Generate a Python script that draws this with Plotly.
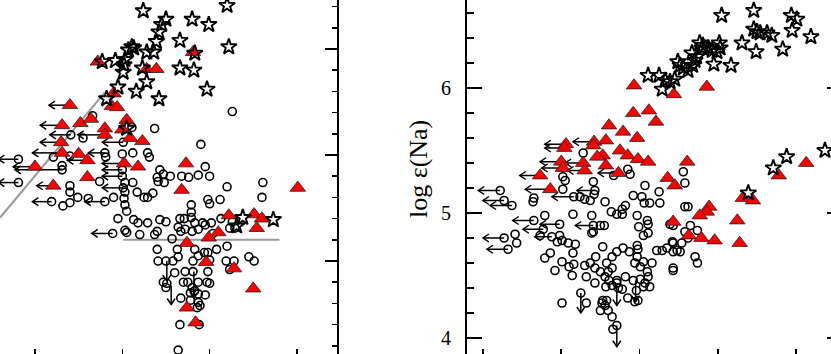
import plotly.graph_objects as go

W, H = 831, 354
FONT = "Liberation Serif"

# ---------------- left panel data ----------------
L_star_x = [-1.76, -1.50, -1.55, -1.58, -1.61, -1.64, -1.72, -1.89, -1.87, -1.93,
            -1.20, -1.01, -0.80, -1.34, -1.17, -0.78, -2.23, -2.08, -1.97, -1.98,
            -1.99, -1.77, -1.34, -1.18, -1.72, -1.84, -2.05, -1.58, -1.03, -2.18,
            -1.95, -0.62, -0.69, -0.27]
L_star_y = [2.36, 2.28, 2.23, 2.16, 2.07, 1.97, 1.97, 2.02, 2.01, 1.99,
            2.28, 2.23, 2.41, 2.08, 1.96, 2.02, 1.88, 1.89, 1.90, 1.85,
            1.78, 1.82, 1.82, 1.80, 1.69, 1.60, 1.64, 1.53, 1.62, 1.53,
            1.25, 0.41, 0.33, 0.39]

L_tri_x = [-2.28, -1.72, -1.61, -1.19, -2.10, -2.12, -2.06, -2.60, -2.48, -2.36,
           -2.69, -2.20, -1.95, -2.00, -2.20, -1.91, -1.77, -2.70, -2.69, -2.50,
           -2.40, -3.00, -1.98, -1.82, -1.27, -2.40, -2.79, -1.32, 0.01, -0.78,
           -0.49, -0.40, -0.46, -0.90, -1.01, -1.26, -1.04, -0.72, -0.50, -1.26,
           -1.16]
L_tri_y = [1.88, 1.81, 1.81, 1.97, 1.58, 1.46, 1.45, 1.47, 1.30, 1.34,
           1.28, 1.25, 1.33, 1.24, 1.19, 1.16, 1.13, 1.12, 1.02, 1.01,
           0.95, 0.89, 0.92, 0.89, 0.92, 0.79, 0.71, 0.67, 0.69, 0.43,
           0.44, 0.40, 0.31, 0.27, 0.22, 0.17, -0.01, -0.07, -0.26, -0.44,
           -0.58]

L_circ_x = [-0.74, -1.63, -1.10, -2.34, -1.89, -2.45, -2.59, -2.79, -1.99, -1.88,
            -1.71, -1.69, -2.00, -2.20, -3.19, -2.69, -2.69, -1.57, -1.53, -1.45,
            -1.60, -1.59, -1.52, -1.32, -1.24, -1.13, -1.00, -1.05, -2.19, -2.60,
            -3.19, -2.60, -2.60, -2.60, -2.81, -2.68, -2.51, -2.39, -2.20, -2.26,
            -2.10, -1.97, -1.88, -1.97, -1.98, -1.97, -1.95, -1.83, -1.71, -1.65,
            -1.75, -2.00, -2.00, -1.99, -0.80, -0.39, -0.40, -0.88, -1.02, -1.00,
            -1.21, -1.21, -1.21, -1.34, -1.29, -1.17, -1.08, -0.98, -0.87, -0.74,
            -0.77, -0.71, -1.36, -1.33, -1.28, -1.20, -1.13, -1.05, -1.57, -1.50,
            -1.60, -1.63, -1.97, -2.11, -1.87, -1.82, -1.71, -1.80, -2.05, -1.43,
            -1.60, -1.37, -1.17, -0.92, -1.59, -1.50, -1.42, -1.36, -1.19, -1.13,
            -1.06, -1.02, -1.00, -0.81, -0.72, -0.55, -0.49, -0.77, -1.28, -1.19,
            -1.02, -1.40, -1.49, -1.53, -1.50, -1.30, -1.25, -1.13, -1.03, -1.00,
            -1.20, -1.17, -1.22, -1.13, -1.33, -1.22, -1.13, -1.14, -1.11, -1.05,
            -1.34, -1.12, -1.36, -0.80, -0.96, -1.95]
L_circ_y = [1.41, 1.25, 1.10, 1.37, 1.26, 1.16, 1.19, 0.98, 1.12, 1.02,
            1.02, 0.98, 1.01, 1.02, 0.96, 0.86, 0.90, 0.86, 0.82, 0.80,
            0.79, 0.75, 0.74, 0.80, 0.79, 0.81, 0.80, 0.89, 0.98, 0.99,
            0.74, 0.71, 0.65, 0.55, 0.56, 0.52, 0.60, 0.59, 0.56, 0.75,
            0.60, 0.74, 0.74, 0.65, 0.59, 0.53, 0.47, 0.65, 0.60, 0.64,
            0.60, 0.86, 0.80, 0.69, 0.70, 0.74, 0.60, 0.58, 0.58, 0.54,
            0.53, 0.46, 0.41, 0.40, 0.40, 0.36, 0.36, 0.36, 0.40, 0.37,
            0.31, 0.31, 0.32, 0.28, 0.30, 0.28, 0.30, 0.34, 0.39, 0.37,
            0.28, 0.25, 0.29, 0.26, 0.39, 0.36, 0.36, 0.25, 0.40, 0.21,
            0.11, 0.11, 0.11, 0.11, 0.00, 0.00, 0.00, 0.04, 0.00, 0.05,
            0.08, 0.08, 0.01, 0.00, 0.00, 0.04, 0.00, -0.08, -0.10, -0.10,
            -0.10, -0.11, -0.21, -0.20, -0.25, -0.20, -0.20, -0.20, -0.20, -0.21,
            -0.25, -0.28, -0.30, -0.31, -0.35, -0.37, -0.39, -0.44, -0.42, -0.32,
            -0.60, -0.60, -0.84, 0.14, 0.26, 0.27]

# upper limits (horizontal): point x, point y, arrow-tip x
L_lim_x = [-2.60, -2.69, -2.59, -2.70, -2.69, -3.19, -3.00, -2.69, -2.40, -2.20, -1.99,
           -2.20, -1.98, -2.00, -2.00, -3.19, -2.79, -2.81, -2.20, -1.99, -2.11]
L_lim_y = [1.47, 1.28, 1.19, 1.12, 1.02, 0.96, 0.89, 0.86, 0.95, 1.19, 1.12,
           1.02, 0.92, 0.86, 0.80, 0.74, 0.71, 0.56, 0.56, 0.69, 0.26]
L_lim_tip = [-2.84, -2.94, -2.83, -2.94, -3.03, -3.42, -3.25, -3.23, -2.63, -2.51, -2.23,
             -2.39, -2.23, -2.23, -2.23, -3.42, -2.98, -3.03, -2.43, -2.23, -2.35]
# upper limits (vertical)
L_vlim_x = [-1.49, -1.44, -1.18]
L_vlim_y = [0.00, -0.23, -0.10]
L_vlim_tip = [-0.19, -0.41, -0.35]

L_diag_x = [-3.40, -2.20]
L_diag_y = [0.41, 1.59]
L_hline_x = [-1.99, -0.20]
L_hline_y = [0.20, 0.20]

# ---------------- right panel data ----------------
R_star_x = [4.05, 4.46, 4.94, 5.01, 4.46, 4.50, 4.54, 4.63, 4.69, 4.95,
            5.19, 4.31, 4.49, 4.83, 3.77, 3.81, 3.80, 4.02, 4.03, 3.99,
            3.88, 3.93, 3.67, 3.73, 3.71, 3.68, 3.95, 4.17, 3.49, 3.52,
            3.56, 3.62, 3.11, 3.25, 3.33, 3.45, 3.39, 3.29, 5.37, 4.88,
            4.71, 4.39]
R_star_y = [6.58, 6.62, 6.58, 6.55, 6.47, 6.45, 6.44, 6.44, 6.42, 6.46,
            6.41, 6.36, 6.29, 6.31, 6.36, 6.34, 6.32, 6.36, 6.32, 6.29,
            6.32, 6.30, 6.28, 6.25, 6.22, 6.18, 6.19, 6.18, 6.21, 6.18,
            6.16, 6.14, 6.10, 6.10, 6.06, 6.07, 6.05, 5.99, 5.50, 5.45,
            5.36, 5.16]

R_tri_x = [2.93, 3.44, 3.86, 2.92, 3.12, 3.21, 2.61, 2.79, 2.97, 2.42,
           2.41, 2.57, 2.75, 2.85, 2.98, 3.11, 3.61, 2.53, 2.46, 2.57,
           2.28, 2.30, 2.73, 3.36, 4.78, 5.13, 3.45, 4.32, 4.45, 3.89,
           3.86, 3.77, 4.25, 3.43, 3.63, 3.79, 3.96, 4.28, 2.06, 2.04,
           2.00, 2.02, 1.73, 1.86]
R_tri_y = [6.02, 5.95, 6.01, 5.80, 5.82, 5.73, 5.70, 5.65, 5.60, 5.57,
           5.54, 5.58, 5.50, 5.46, 5.43, 5.41, 5.41, 5.46, 5.45, 5.38,
           5.40, 5.34, 5.32, 5.28, 5.30, 5.40, 5.22, 5.12, 5.10, 5.05,
           5.01, 4.98, 4.94, 4.93, 4.82, 4.80, 4.78, 4.76, 5.55, 5.52,
           5.41, 5.36, 5.30, 5.19]

R_circ_x = [1.22, 1.27, 1.37, 1.27, 1.32, 1.41, 1.43, 1.65, 1.64, 1.79,
            1.65, 1.77, 1.73, 1.88, 1.98, 2.01, 2.02, 2.05, 2.02, 2.28,
            2.16, 2.24, 2.30, 2.41, 2.43, 2.42, 2.37, 2.56, 2.67, 2.85,
            2.88, 3.56, 3.58, 3.25, 3.07, 2.92, 3.03, 3.06, 3.13, 3.26,
            3.58, 3.62, 2.82, 2.78, 2.78, 2.71, 2.64, 2.97, 3.10, 3.11,
            2.99, 3.11, 3.05, 2.39, 2.50, 2.55, 2.41, 2.41, 2.15, 1.98,
            3.39, 3.43, 3.65, 3.74, 3.58, 3.62, 3.54, 3.48, 3.42, 3.35,
            3.29, 3.43, 3.52, 3.71, 3.74, 3.43, 3.43, 1.95, 2.09, 2.18,
            2.15, 1.79, 1.86, 2.01, 1.92, 2.10, 2.14, 2.16, 2.01, 2.53,
            2.30, 2.37, 2.44, 2.43, 2.50, 2.58, 2.65, 2.71, 2.79, 2.87,
            2.97, 2.98, 2.97, 2.94, 3.01, 3.05, 3.16, 3.10, 3.11, 3.07,
            3.01, 3.13, 3.05, 2.82, 2.71, 2.60, 2.65, 2.61, 2.56, 2.65,
            2.71, 2.43, 2.32, 2.57, 2.73, 2.78, 2.92, 2.96, 2.94, 2.98,
            2.85, 2.25, 2.32, 2.53, 2.52, 2.58, 2.56, 2.60, 2.65, 2.50,
            2.71, 2.66, 3.22, 3.43, 2.39]
R_circ_y = [5.18, 5.10, 5.06, 4.80, 4.71, 4.83, 4.76, 5.12, 5.09, 4.98,
            4.94, 4.87, 4.82, 4.81, 4.82, 4.78, 5.29, 5.26, 5.19, 5.48,
            5.13, 5.13, 5.11, 5.25, 5.18, 5.15, 5.10, 5.09, 5.30, 5.35,
            5.31, 5.33, 5.24, 5.17, 5.22, 5.14, 5.13, 5.08, 5.08, 5.08,
            5.05, 5.05, 5.06, 5.03, 4.99, 4.99, 5.01, 4.98, 4.94, 4.91,
            4.89, 4.84, 4.82, 4.98, 4.90, 4.90, 4.85, 4.90, 4.99, 4.91,
            4.91, 4.90, 4.90, 4.86, 4.85, 4.80, 4.76, 4.70, 4.77, 4.72,
            4.70, 4.69, 4.69, 4.65, 4.60, 4.56, 4.54, 4.77, 4.76, 4.75,
            4.68, 4.64, 4.68, 4.61, 4.54, 4.57, 4.50, 4.59, 4.28, 4.73,
            4.58, 4.60, 4.65, 4.56, 4.53, 4.60, 4.65, 4.69, 4.72, 4.69,
            4.74, 4.71, 4.65, 4.60, 4.57, 4.61, 4.60, 4.53, 4.49, 4.44,
            4.47, 4.41, 4.41, 4.49, 4.46, 4.53, 4.56, 4.46, 4.49, 4.42,
            4.44, 4.44, 4.49, 4.41, 4.40, 4.39, 4.46, 4.38, 4.29, 4.30,
            4.32, 4.36, 4.28, 4.30, 4.28, 4.30, 4.26, 4.22, 4.17, 4.22,
            4.10, 4.07, 4.70, 4.76, 4.84]

R_lim_x = [2.06, 2.04, 2.42, 2.00, 2.02, 1.73, 1.86, 2.28, 2.30, 2.73, 1.22,
           1.27, 1.37, 2.16, 2.43, 1.65, 1.77, 1.98, 2.41, 1.88, 1.27, 1.32]
R_lim_y = [5.55, 5.52, 5.57, 5.41, 5.36, 5.30, 5.19, 5.40, 5.34, 5.32, 5.18,
           5.10, 5.06, 5.13, 5.18, 4.94, 4.87, 4.91, 4.90, 4.81, 4.80, 4.71]
R_lim_tip = [1.79, 1.79, 2.15, 1.73, 1.75, 1.47, 1.54, 2.05, 2.08, 2.47, 0.94,
             1.00, 1.09, 1.88, 2.20, 1.38, 1.51, 1.73, 2.18, 1.66, 1.00, 1.05]
R_vlim_x = [2.95, 2.25, 2.71, 2.71]
R_vlim_y = [4.46, 4.36, 4.44, 4.10]
R_vlim_tip = [4.29, 4.20, 4.26, 3.93]

# ---------------- axes geometry ----------------
L_DOM = [0.0, 0.4055]
R_DOM = [0.562, 1.0]
L_XR = [-3.401, 0.459]
L_YR = [-0.877, 2.462]
R_XR = [0.796, 5.447]
R_YR = [3.872, 6.704]


def arrow_paths(px, py, tip, horizontal, xr, yr, dom):
    ppx = (dom[1] - dom[0]) * W / (xr[1] - xr[0])
    ppy = H / (yr[1] - yr[0])
    X, Y = [], []
    for x, y, t in zip(px, py, tip):
        if horizontal:
            X += [x, t, None, t + 6 / ppx, t, t + 6 / ppx, None]
            Y += [y, y, None, y + 4 / ppy, y, y - 4 / ppy, None]
        else:
            X += [x, x, None, x - 4 / ppx, x, x + 4 / ppx, None]
            Y += [y, t, None, t + 6 / ppy, t, t + 6 / ppy, None]
    return X, Y


fig = go.Figure()

circ = dict(symbol="circle-open", size=8, color="black", line=dict(width=1.6, color="black"))
tri = dict(symbol="triangle-up", size=13.5, color="#ff0000", line=dict(width=0.8, color="#222222"))
star = dict(symbol="star-open", size=12, color="black", line=dict(width=1.9, color="black"))
arrow_line = dict(color="black", width=1.5)

# left panel
fig.add_trace(go.Scatter(x=L_diag_x, y=L_diag_y, mode="lines", line=dict(color="#9a9a9a", width=2),
                         xaxis="x", yaxis="y"))
fig.add_trace(go.Scatter(x=L_hline_x, y=L_hline_y, mode="lines", line=dict(color="#9a9a9a", width=2),
                         xaxis="x", yaxis="y"))
ax_, ay_ = arrow_paths(L_lim_x, L_lim_y, L_lim_tip, True, L_XR, L_YR, L_DOM)
bx_, by_ = arrow_paths(L_vlim_x, L_vlim_y, L_vlim_tip, False, L_XR, L_YR, L_DOM)
fig.add_trace(go.Scatter(x=ax_ + bx_, y=ay_ + by_, mode="lines", line=arrow_line, xaxis="x", yaxis="y"))
fig.add_trace(go.Scatter(x=L_circ_x, y=L_circ_y, mode="markers", marker=circ, xaxis="x", yaxis="y"))
fig.add_trace(go.Scatter(x=L_tri_x, y=L_tri_y, mode="markers", marker=tri, xaxis="x", yaxis="y"))
fig.add_trace(go.Scatter(x=L_star_x, y=L_star_y, mode="markers", marker=star, xaxis="x", yaxis="y"))

# right panel
ax_, ay_ = arrow_paths(R_lim_x, R_lim_y, R_lim_tip, True, R_XR, R_YR, R_DOM)
bx_, by_ = arrow_paths(R_vlim_x, R_vlim_y, R_vlim_tip, False, R_XR, R_YR, R_DOM)
fig.add_trace(go.Scatter(x=ax_ + bx_, y=ay_ + by_, mode="lines", line=arrow_line, xaxis="x2", yaxis="y2"))
fig.add_trace(go.Scatter(x=R_circ_x, y=R_circ_y, mode="markers", marker=circ, xaxis="x2", yaxis="y2"))
fig.add_trace(go.Scatter(x=R_tri_x, y=R_tri_y, mode="markers", marker=tri, xaxis="x2", yaxis="y2"))
fig.add_trace(go.Scatter(x=R_star_x, y=R_star_y, mode="markers", marker=star, xaxis="x2", yaxis="y2"))
fig.add_trace(go.Scatter(x=[None], y=[None], mode="markers", xaxis="x2", yaxis="y3", hoverinfo="skip"))

common = dict(showgrid=False, zeroline=False, tickcolor="black", linecolor="black")

fig.update_layout(
    width=W, height=H, margin=dict(l=0, r=0, t=0, b=0),
    paper_bgcolor="white", plot_bgcolor="white", showlegend=False,
    font=dict(family=FONT, color="black"),
    xaxis=dict(domain=L_DOM, range=L_XR, anchor="y", showline=False, ticks="inside",
               tick0=-3, dtick=1, ticklen=5, tickwidth=1.5, showticklabels=False, **common),
    yaxis=dict(domain=[0, 1], range=L_YR, anchor="x", side="right", showline=True, linewidth=2,
               ticks="inside", tick0=0, dtick=1, ticklen=12, tickwidth=1.5, showticklabels=False,
               minor=dict(dtick=0.2, tick0=0, ticklen=5, tickwidth=1.5, ticks="inside", tickcolor="black"),
               **common),
    xaxis2=dict(domain=R_DOM, range=R_XR, anchor="y2", showline=False, ticks="inside",
                tick0=1, dtick=1, ticklen=5, tickwidth=1.5, showticklabels=False, **common),
    yaxis2=dict(domain=[0, 1], range=R_YR, anchor="x2", side="left", showline=True, linewidth=2,
                ticks="inside", tick0=4, dtick=1, ticklen=15, tickwidth=1.5, showticklabels=True,
                tickfont=dict(family=FONT, size=20, color="black"), ticklabelstandoff=10,
                minor=dict(dtick=0.2, tick0=4, ticklen=7, tickwidth=1.5, ticks="inside", tickcolor="black"),
                **common),
    yaxis3=dict(range=R_YR, anchor="x2", overlaying="y2", side="right", showline=False,
                ticks="inside", tick0=4, dtick=1, ticklen=4, tickwidth=1.5, showticklabels=False,
                **common),
    annotations=[dict(text="log ε(Na)", xref="paper", yref="paper", x=418 / W, y=1 - 169 / H,
                      xanchor="center", yanchor="middle", textangle=-90, showarrow=False,
                      font=dict(family=FONT, size=26, color="black"))],
)

fig.write_html("out.html", config={"displayModeBar": False, "staticPlot": True},
               post_script="document.body.style.margin='0';document.body.style.overflow='hidden';")
